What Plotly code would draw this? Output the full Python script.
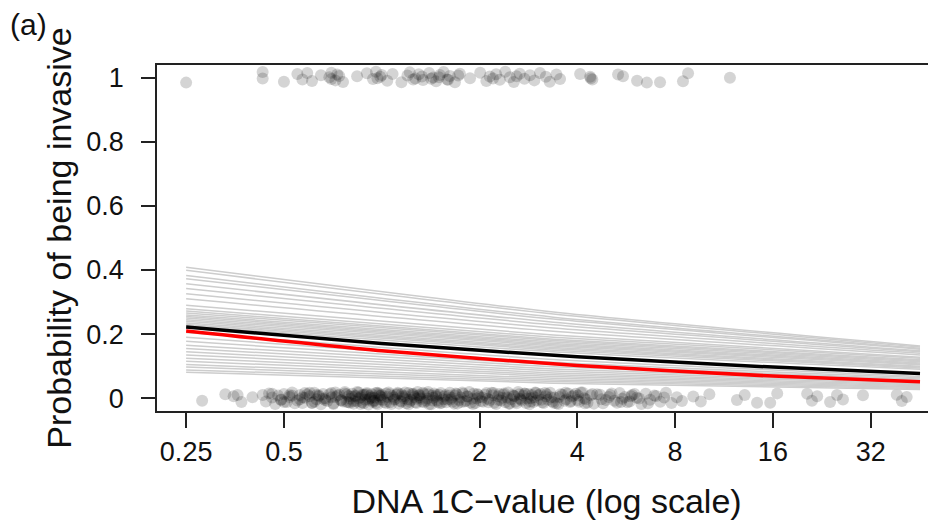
import math
import plotly.graph_objects as go

# ---------------- data ----------------
tick_vals = [0.25, 0.5, 1, 2, 4, 8, 16, 32]
tick_text = ["0.25", "0.5", "1", "2", "4", "8", "16", "32"]
y_tick_vals = [0, 0.2, 0.4, 0.6, 0.8, 1]
y_tick_text = ["0", "0.2", "0.4", "0.6", "0.8", "1"]

# invasive species (jittered around 1)
top_x = [0.25, 0.43, 0.43, 0.50, 0.55, 0.57, 0.59, 0.61, 0.65, 0.69, 0.70, 0.72, 0.73,
         0.76, 0.84, 0.90, 0.94, 0.96, 0.99, 1.04, 1.08, 1.15, 1.20, 1.22, 1.27, 1.30,
         1.34, 1.40, 1.44, 1.47, 1.51, 1.55, 1.59, 1.62, 1.68, 1.74, 1.87, 2.01, 2.10,
         2.15, 2.25, 2.31, 2.40, 2.48, 2.55, 2.66, 2.75, 2.86, 2.95, 3.07, 3.20, 3.29,
         3.45, 3.54, 4.08, 4.38, 4.45, 5.34, 5.53, 6.11, 6.55, 7.19, 8.46, 8.77, 11.8,
         0.70, 0.74, 0.97, 1.00, 1.25, 1.33, 1.42, 1.50, 1.60, 1.72, 2.20, 2.60, 4.40]
top_y = [0.985, 1.018, 0.998, 0.988, 1.012, 0.995, 1.015, 0.990, 1.008, 1.002, 1.016, 0.992, 1.010,
         0.987, 1.005, 1.014, 0.996, 1.019, 1.003, 0.991, 1.012, 0.986, 1.007, 1.017, 0.998, 1.011,
         0.993, 1.015, 1.001, 0.989, 1.009, 1.018, 0.995, 1.006, 0.986, 1.013, 0.999, 1.016, 0.990,
         1.004, 1.011, 0.994, 1.019, 1.002, 0.987, 1.013, 0.997, 1.008, 0.992, 1.015, 1.003, 0.988,
         1.010, 0.996, 1.012, 1.003, 0.995, 1.010, 1.005, 0.991, 0.985, 0.986, 0.989, 1.014, 1.000,
         0.996, 1.006, 0.999, 1.009, 0.995, 1.004, 0.997, 1.002, 0.994, 1.007, 0.998, 1.005, 0.999]

# non-invasive species (jittered around 0)
bottom_x = [0.28, 0.33, 0.35, 0.36, 0.37, 0.40, 0.43,
            0.44, 0.45, 0.46, 0.47, 0.48, 0.49, 0.50, 0.51, 0.52, 0.53, 0.55, 0.56, 0.57, 0.58, 0.59,
            0.60, 0.61, 0.62, 0.63, 0.64, 0.65, 0.66, 0.67, 0.68, 0.70, 0.71, 0.72, 0.74, 0.75, 0.77, 0.78, 0.79,
            0.80, 0.81, 0.82, 0.83, 0.84, 0.85, 0.86, 0.87, 0.88, 0.89, 0.90, 0.91, 0.92, 0.93, 0.94, 0.95,
            0.96, 0.97, 0.98, 0.99,
            1.00, 1.02, 1.04, 1.05, 1.07, 1.08, 1.10, 1.12, 1.14, 1.15, 1.17, 1.19, 1.21, 1.23, 1.25, 1.27,
            1.29, 1.31, 1.33, 1.35, 1.38, 1.40, 1.43, 1.45, 1.48,
            1.50, 1.53, 1.56, 1.59, 1.62, 1.65, 1.68, 1.71, 1.75, 1.78, 1.82, 1.86, 1.90, 1.94, 1.98,
            2.00, 2.05, 2.10, 2.15, 2.20, 2.25, 2.30, 2.35, 2.40, 2.45, 2.50, 2.55, 2.60, 2.65, 2.70, 2.75,
            2.80, 2.85, 2.90, 2.95,
            3.00, 3.08, 3.15, 3.20, 3.30, 3.35, 3.40, 3.50, 3.60, 3.70, 3.75, 3.80, 3.90, 4.00, 4.10, 4.20,
            4.30, 4.40,
            4.60, 4.80, 5.00, 5.20, 5.40, 5.50, 5.70, 5.90, 6.10, 6.30, 6.50, 6.70, 7.00, 7.20, 7.50, 7.80,
            8.10, 8.40,
            9.1, 9.6, 10.2, 12.4, 13.1, 14.3, 15.7, 16.5, 20.4, 21.1, 21.9, 24.0, 25.2, 26.3, 30.3, 38.5,
            39.9, 41.3]
bottom_y = [-0.008, 0.012, 0.006, 0.010, -0.012, 0.003, 0.010,
            -0.010, 0.015, 0.002, -0.018, 0.008, -0.004, 0.013, -0.012, 0.004, 0.018, -0.007, 0.010, -0.015, 0.001, 0.012,
            0.006, -0.014, 0.017, -0.003, 0.009, -0.019, 0.013, 0.000, -0.009, 0.016, -0.016, 0.004, 0.011, -0.006, 0.019, -0.012, 0.007,
            -0.002, 0.014, -0.017, 0.008, -0.010, 0.018, 0.003, -0.013, 0.011, -0.005, 0.016, -0.020, 0.006, 0.012, -0.008, 0.001,
            -0.015, 0.017, 0.009, -0.004,
            0.010, -0.012, 0.004, 0.018, -0.018, 0.007, -0.003, 0.014, -0.009, 0.012, 0.000, -0.016, 0.016, -0.006, 0.009, -0.013,
            0.019, 0.003, -0.010, 0.013, -0.001, -0.019, 0.008, 0.015, -0.007,
            0.011, -0.014, 0.005, -0.004, 0.017, -0.011, 0.008, -0.017, 0.002, 0.014, -0.008, 0.019, -0.002, -0.015, 0.010,
            0.004, -0.011, 0.016, -0.006, 0.009, -0.018, 0.013, 0.001, -0.013, 0.018, -0.003, 0.007, -0.016, 0.012, -0.008, 0.015,
            -0.001, -0.019, 0.010, 0.003,
            -0.007, 0.013, -0.015, 0.006, 0.017, -0.010, 0.002, -0.018, 0.011, -0.003, 0.015, -0.012, 0.008, -0.006, 0.018, 0.000,
            -0.014, 0.009,
            0.012, -0.016, 0.004, -0.008, 0.016, -0.002, -0.013, 0.010, 0.001, -0.018, 0.014, -0.005, 0.007, -0.011, 0.017, -0.015,
            0.003, -0.009,
            0.005, -0.010, 0.012, -0.006, 0.010, -0.014, -0.014, 0.015, 0.014, -0.008, 0.006, -0.012, 0.010, -0.004, 0.009, 0.011,
            -0.009, 0.004]

# more non-invasive species in the dense middle range
bottom_x2 = [0.46, 0.49, 0.52, 0.54, 0.57, 0.60, 0.62, 0.64, 0.66, 0.69, 0.71, 0.73, 0.75, 0.77, 0.79,
             0.81, 0.82, 0.84, 0.85, 0.87, 0.88, 0.90, 0.91, 0.93, 0.94, 0.96, 0.97, 0.99,
             1.01, 1.03, 1.06, 1.09, 1.11, 1.13, 1.16, 1.18, 1.20, 1.22, 1.24, 1.26, 1.28, 1.30, 1.32, 1.34,
             1.37, 1.39, 1.42, 1.44, 1.47, 1.49,
             1.52, 1.55, 1.58, 1.61, 1.64, 1.67, 1.70, 1.73, 1.77, 1.80, 1.84, 1.88, 1.92, 1.96,
             2.02, 2.08, 2.12, 2.18, 2.22, 2.28, 2.33, 2.38, 2.43, 2.48, 2.53, 2.58, 2.63, 2.68, 2.73, 2.78,
             2.83, 2.88, 2.93, 2.98,
             3.04, 3.12, 3.18, 3.25, 3.32, 3.45, 3.55, 3.65, 3.85, 3.95, 4.05, 4.15, 4.25, 4.50,
             4.70, 4.90, 5.10, 5.30, 5.60, 5.80, 6.00, 6.20, 6.60, 6.90, 7.40]
bottom_y2 = [0.014, -0.006, 0.009, -0.016, 0.003, 0.017, -0.011, 0.006, -0.002, 0.012, -0.018, 0.008, -0.007, 0.015, -0.013,
             0.005, -0.009, 0.019, -0.001, 0.010, -0.016, 0.013, -0.005, 0.002, -0.012, 0.016, -0.019, 0.007,
             -0.006, 0.015, -0.013, 0.002, 0.011, -0.017, 0.006, 0.018, -0.004, -0.011, 0.013, 0.004, -0.015, 0.009,
             -0.002, 0.017, -0.008, 0.012, -0.019, 0.001, 0.010, -0.012,
             0.016, -0.003, -0.013, 0.008, 0.001, -0.017, 0.012, -0.006, 0.018, -0.010, 0.005, -0.014, 0.014, -0.001,
             -0.009, 0.011, -0.002, 0.017, -0.014, 0.006, -0.007, 0.015, 0.002, -0.017, 0.010, -0.011, 0.019, -0.004,
             0.008, -0.015, 0.013, 0.000, -0.012, 0.016,
             0.009, -0.013, 0.016, -0.005, 0.003, -0.016, 0.012, -0.008, 0.005, 0.014, -0.011, 0.018, -0.003, -0.017,
             0.011, -0.006, 0.015, -0.014, 0.004, -0.010, 0.013, -0.001, -0.016, 0.008, 0.002]

bottom_x3 = [0.50, 0.53, 0.56, 0.58, 0.61, 0.63, 0.67, 0.70, 0.72, 0.76, 0.78,
             0.80, 0.83, 0.86, 0.89, 0.92, 0.95, 0.98,
             1.00, 1.03, 1.06, 1.09, 1.12, 1.15, 1.18, 1.21, 1.25, 1.28, 1.31, 1.35, 1.39, 1.43, 1.47,
             1.51, 1.57, 1.63, 1.69, 1.76, 1.83, 1.91, 1.97,
             2.04, 2.13, 2.21, 2.29, 2.37, 2.46, 2.56, 2.66, 2.76, 2.87, 2.97,
             3.10, 3.22, 3.38, 3.52, 3.68, 3.82, 4.02, 4.22, 4.45, 4.75, 5.05, 5.45, 5.85]
bottom_y3 = [-0.012, 0.008, -0.003, 0.016, -0.015, 0.010, -0.006, 0.003, 0.018, -0.010, 0.012,
             -0.014, 0.006, -0.018, 0.011, 0.000, -0.008, 0.015,
             0.003, -0.015, 0.012, -0.005, 0.017, -0.011, 0.007, -0.019, 0.014, -0.002, 0.009, -0.013, 0.019, -0.007, 0.005,
             -0.016, 0.010, -0.004, 0.015, -0.012, 0.006, -0.018, 0.013,
             0.002, -0.013, 0.016, -0.006, 0.011, -0.017, 0.007, -0.001, 0.014, -0.010, 0.018,
             -0.005, 0.012, -0.014, 0.004, 0.017, -0.009, 0.008, -0.016, 0.013, -0.003, 0.010, -0.012, 0.006]

# fitted curves (values read at these DNA 1C-values)
curve_x = [0.25, 1, 4, 16, 45.4]
black_fit = [0.222, 0.171, 0.129, 0.097, 0.077]
red_fit = [0.210, 0.148, 0.102, 0.069, 0.051]

# grey sampled curves: values at left end, middle and right end
grey_x = [0.25, 3.375, 45.4]
grey_left = [0.409, 0.399, 0.383, 0.373, 0.357, 0.342, 0.326, 0.310, 0.290, 0.279, 0.272,
             0.266, 0.260, 0.255, 0.250, 0.245, 0.240, 0.235, 0.230, 0.226, 0.205, 0.190,
             0.178, 0.165, 0.155, 0.145, 0.135, 0.125, 0.115, 0.105, 0.097, 0.088, 0.081]
grey_mid = [0.269, 0.263, 0.253, 0.247, 0.237, 0.229, 0.219, 0.209, 0.197, 0.190, 0.184,
            0.180, 0.175, 0.171, 0.167, 0.163, 0.158, 0.154, 0.150, 0.145, 0.121, 0.112,
            0.105, 0.098, 0.091, 0.085, 0.079, 0.073, 0.068, 0.062, 0.057, 0.052, 0.047]
grey_right = [0.163, 0.160, 0.156, 0.153, 0.148, 0.145, 0.140, 0.135, 0.128, 0.125, 0.120,
              0.117, 0.114, 0.110, 0.107, 0.104, 0.100, 0.097, 0.094, 0.090, 0.068, 0.064,
              0.060, 0.056, 0.052, 0.048, 0.045, 0.042, 0.039, 0.036, 0.033, 0.030, 0.027]

# ---------------- figure ----------------
FONT = "Liberation Sans, Arial, sans-serif"
PT = dict(size=12, color="rgba(0,0,0,0.17)", line=dict(width=0))
fig = go.Figure()

for xs, ys in [(bottom_x, bottom_y), (bottom_x2, bottom_y2), (bottom_x3, bottom_y3), (top_x, top_y)]:
    fig.add_trace(go.Scatter(x=xs, y=ys, mode="markers", marker=PT,
                             hoverinfo="skip", showlegend=False))

for a, b, c in zip(grey_left, grey_mid, grey_right):
    fig.add_trace(go.Scatter(x=grey_x, y=[a, b, c], mode="lines",
                             line=dict(color="rgb(205,205,205)", width=1.5, shape="spline", smoothing=0.6),
                             hoverinfo="skip", showlegend=False))

fig.add_trace(go.Scatter(x=curve_x, y=black_fit, mode="lines",
                         line=dict(color="black", width=3.5, shape="spline", smoothing=0.6),
                         showlegend=False))
fig.add_trace(go.Scatter(x=curve_x, y=red_fit, mode="lines",
                         line=dict(color="#ff0000", width=3.5, shape="spline", smoothing=0.6),
                         showlegend=False))

# page body has an 8px margin: figure is 928x519 so it fits the 936x527 window
x_range_log2 = [-2.298, 5.668]
fig.update_xaxes(
    type="log",
    range=[v * math.log10(2) for v in x_range_log2],
    tickvals=tick_vals, ticktext=tick_text,
    ticks="outside", ticklen=15, tickwidth=1.5, tickcolor="#222",
    showline=True, linecolor="#222", linewidth=1.5, mirror=True,
    showgrid=False, zeroline=False,
    tickfont=dict(family=FONT, size=27, color="#111"),
    ticklabelstandoff=1,
    title=dict(text="DNA 1C\u2212value (log scale)", font=dict(family=FONT, size=34, color="#111"),
               standoff=23),
)
fig.update_yaxes(
    range=[-0.04, 1.04],
    tickvals=y_tick_vals, ticktext=y_tick_text,
    ticks="outside", ticklen=14, tickwidth=1.5, tickcolor="#222",
    showline=True, linecolor="#222", linewidth=1.5, mirror=False,
    showgrid=False, zeroline=False,
    tickfont=dict(family=FONT, size=27, color="#111"),
    ticklabelstandoff=12,
    title=dict(text="Probability of being invasive", font=dict(family=FONT, size=34, color="#111"),
               standoff=4),
)

fig.add_annotation(text="(a)", xref="paper", yref="paper", x=-0.191, y=1.118,
                   xanchor="left", yanchor="middle", showarrow=False,
                   font=dict(family=FONT, size=30, color="#111"))

fig.update_layout(
    width=928, height=519,
    margin=dict(l=149, r=0, t=57, b=116),
    paper_bgcolor="white", plot_bgcolor="white",
    showlegend=False,
)

fig.write_html("out.html")
